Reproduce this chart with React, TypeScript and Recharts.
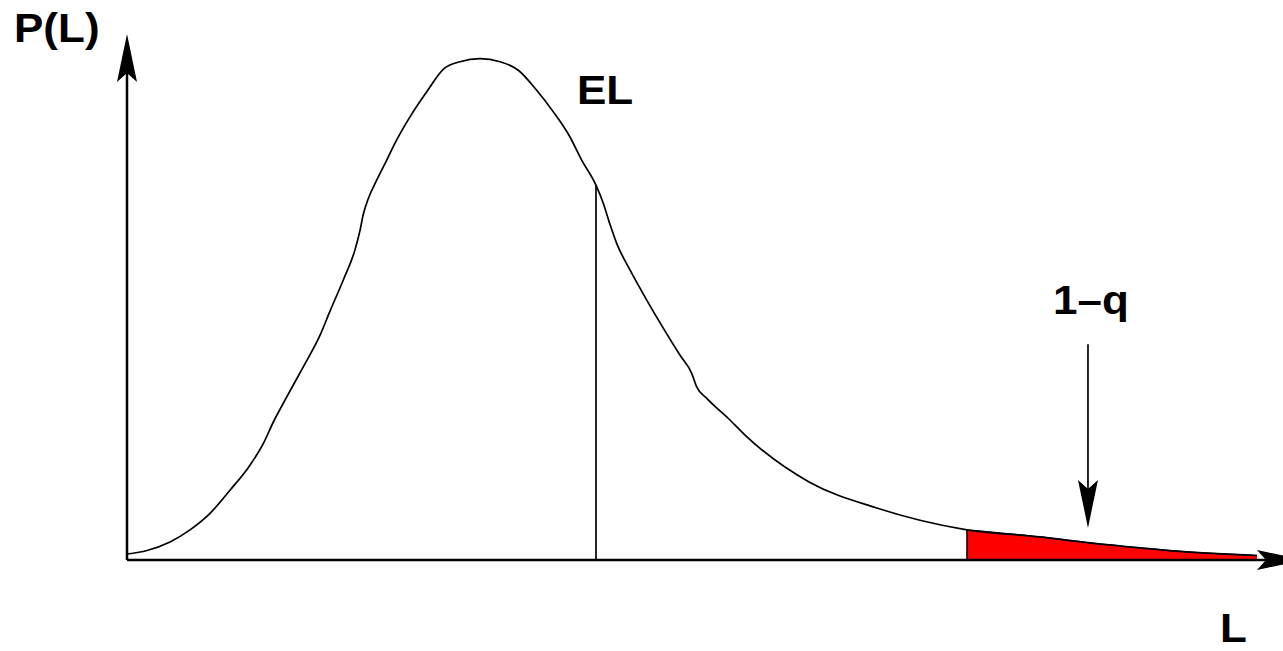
import { ComposedChart, Line, Area, XAxis, YAxis, ReferenceLine } from 'recharts';

// loss L (x) and density P(L) (y)
const lossValues = [
  0.0, 0.173, 0.372, 0.545, 0.718, 0.891, 1.064, 1.179, 1.266, 1.382, 1.525, 1.67, 1.756, 1.871,
  1.972, 2.016, 2.044, 2.087, 2.16, 2.247, 2.333, 2.448, 2.593, 2.742, 2.881, 3.054, 3.227, 3.385,
  3.544, 3.688, 3.832, 3.933, 4.057, 4.12, 4.178, 4.236, 4.351, 4.496, 4.639, 4.784, 4.885, 4.928,
  5.015, 5.202, 5.346, 5.904, 6.479, 7.266, 7.898, 8.33, 8.763, 9.109, 9.775,
];
const densityValues = [
  0.012, 0.019, 0.036, 0.06, 0.093, 0.139, 0.189, 0.232, 0.275, 0.325, 0.385, 0.448, 0.496, 0.558,
  0.618, 0.657, 0.689, 0.72, 0.757, 0.797, 0.837, 0.883, 0.933, 0.979, 0.993, 0.999, 0.993, 0.976,
  0.936, 0.893, 0.843, 0.797, 0.747, 0.711, 0.669, 0.631, 0.578, 0.518, 0.462, 0.408, 0.372, 0.345,
  0.322, 0.282, 0.249, 0.155, 0.104, 0.06, 0.046, 0.034, 0.024, 0.017, 0.009,
];

const expectedLoss = 4.057;
const expectedLossDensity = 0.747;
const tailStart = 7.266;
const tailStartDensity = 0.06;
const quantileArrowL = 8.313;
const quantileArrowFrom = 0.43;
const quantileArrowTo = 0.064;
const xAxisTip = 10.19;
const yAxisTip = 1.048;

const data = lossValues.map((l, i) => ({
  L: l,
  P: densityValues[i],
  tail: l >= tailStart ? densityValues[i] : null,
}));

const ArrowLine = (props: any) => {
  const { x1, y1, x2, y2, sw } = props;
  const dx = x2 - x1;
  const dy = y2 - y1;
  const len = Math.hypot(dx, dy) || 1;
  const ux = dx / len;
  const uy = dy / len;
  const nx = -uy;
  const ny = ux;
  const head = 48;
  const half = 10;
  const notch = 39;
  const bx = x2 - ux * head;
  const by = y2 - uy * head;
  const mx = x2 - ux * notch;
  const my = y2 - uy * notch;
  return (
    <g>
      <line x1={x1} y1={y1} x2={mx} y2={my} stroke="#000" strokeWidth={sw} />
      <polygon
        points={`${x2},${y2} ${bx + nx * half},${by + ny * half} ${mx},${my} ${bx - nx * half},${by - ny * half}`}
        fill="#000"
      />
    </g>
  );
};

const labelStyle: React.CSSProperties = {
  position: 'absolute',
  fontFamily: '"Liberation Sans", Arial, Helvetica, sans-serif',
  fontWeight: 'bold',
  fontSize: 40,
  lineHeight: '30px',
  transform: 'scaleX(1.1)',
  transformOrigin: 'left top',
  color: '#000',
  whiteSpace: 'nowrap',
};

export default function App() {
  return (
    <div style={{ position: 'absolute', left: 0, top: 0, width: 1283, height: 651, background: '#fff', overflow: 'hidden' }}>
      <ComposedChart width={1283} height={651} data={data} margin={{ top: 8, right: 0, bottom: 91, left: 127 }}>
        <XAxis type="number" dataKey="L" domain={[0, 10]} hide />
        <YAxis type="number" domain={[0, 1.1]} hide />
        <Area
          type="monotone"
          dataKey="tail"
          stroke="#000"
          strokeWidth={1.2}
          fill="#ff0000"
          fillOpacity={1}
          isAnimationActive={false}
        />
        <Line
          type="monotone"
          dataKey="P"
          stroke="#000"
          strokeWidth={1.7}
          dot={false}
          isAnimationActive={false}
        />
        <ReferenceLine
          segment={[{ x: expectedLoss, y: 0 }, { x: expectedLoss, y: expectedLossDensity }]}
          stroke="#000"
          strokeWidth={1.7}
          ifOverflow="visible"
        />
        <ReferenceLine
          segment={[{ x: tailStart, y: 0 }, { x: tailStart, y: tailStartDensity }]}
          stroke="#000"
          strokeWidth={1.5}
          ifOverflow="visible"
        />
        <ReferenceLine
          segment={[{ x: 0, y: 0 }, { x: 0, y: yAxisTip }]}
          ifOverflow="visible"
          shape={(p: any) => <ArrowLine {...p} sw={2.5} />}
        />
        <ReferenceLine
          segment={[{ x: 0, y: 0 }, { x: xAxisTip, y: 0 }]}
          ifOverflow="visible"
          shape={(p: any) => <ArrowLine {...p} sw={2.5} />}
        />
        <ReferenceLine
          segment={[{ x: quantileArrowL, y: quantileArrowFrom }, { x: quantileArrowL, y: quantileArrowTo }]}
          ifOverflow="visible"
          shape={(p: any) => <ArrowLine {...p} sw={1.7} />}
        />
      </ComposedChart>
      <div style={{ ...labelStyle, left: 14, top: 13 }}>P(L)</div>
      <div style={{ ...labelStyle, left: 577, top: 75 }}>EL</div>
      <div style={{ ...labelStyle, left: 1053, top: 285 }}>1–q</div>
      <div style={{ ...labelStyle, left: 1220, top: 613 }}>L</div>
    </div>
  );
}
